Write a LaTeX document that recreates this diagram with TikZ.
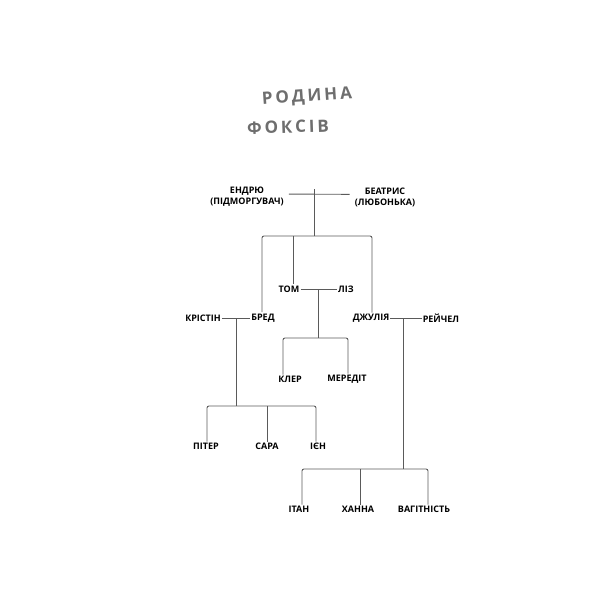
\documentclass[tikz,border=0pt]{standalone}
\usepackage{fontspec}
\setmainfont{Open Sans}
\usetikzlibrary{positioning,calc}
\definecolor{titlegray}{RGB}{110,110,110}
\definecolor{linegray}{RGB}{90,90,90}
\tikzset{
  person/.style={font=\bfseries\fontsize{9}{11}\selectfont, align=center, inner sep=1pt},
  link/.style={draw=linegray, line width=0.9pt, rounded corners=2pt}
}
\begin{document}
\begin{tikzpicture}[x=1pt,y=-1pt]
\useasboundingbox (0,0) rectangle (616,616);
% title
\node[font=\bfseries\fontsize{17}{20}\selectfont, text=titlegray, rotate=4] (title) at (307,97) {Р\,О\,Д\,И\,Н\,А};
\node[font=\bfseries\fontsize{17}{20}\selectfont, text=titlegray, rotate=2] (title2) at (288,127) {Ф\,О\,К\,С\,І\,В};

% people
\node[person] (andrew) at (247,197) {ЕНДРЮ\\(ПІДМОРГУВАЧ)};
\node[person] (beatrice) at (385,197) {БЕАТРИС\\(ЛЮБОНЬКА)};
\node[person] (tom) at (289,289) {ТОМ};
\node[person] (liz) at (346,289) {ЛІЗ};
\node[person] (kristin) at (203,318) {КРІСТІН};
\node[person] (brad) at (263,318) {БРЕД};
\node[person] (julia) at (371,318) {ДЖУЛІЯ};
\node[person] (rachel) at (441,318) {РЕЙЧЕЛ};
\node[person] (claire) at (290,379) {КЛЕР};
\node[person] (meredith) at (347,379) {МЕРЕДІТ};
\node[person] (peter) at (206,446) {ПІТЕР};
\node[person] (sara) at (267,446) {САРА};
\node[person] (ian) at (318,446) {ІЄН};
\node[person] (ethan) at (299,509) {ІТАН};
\node[person] (hanna) at (358,509) {ХАННА};
\node[person] (preg) at (424,509) {ВАГІТНІСТЬ};

% grandparents
\coordinate (gp) at (314,189);
\draw[link] ($(andrew.north east)+(4,8)$) -- ($(beatrice.north west)+(-4,8)$);
\draw[link] (gp) -- (314,236);
\draw[link] (262,312) |- (372,236) -- (julia.north -| 372,0);
\draw[link] (293,236) -- (tom.north -| 293,0);

% tom & liz
\draw[link] (tom.east) -- (liz.west);
\draw[link] (318,289) -- (318,338);
\draw[link] (claire.north -| 283,0) |- (348,338) -- (meredith.north -| 348,0);

% kristin & brad
\draw[link] (kristin.east) -- (brad.west);
\draw[link] (236,318) -- (236,406);
\draw[link] (peter.north -| 207,0) |- (316,406) -- (ian.north -| 316,0);
\draw[link] (267,406) -- (sara.north -| 267,0);

% julia & rachel
\draw[link] (julia.east) -- (rachel.west);
\draw[link] (403,318) -- (403,469);
\draw[link] (ethan.north -| 302,0) |- (428,469) -- (preg.north -| 428,0);
\draw[link] (360,469) -- (hanna.north -| 360,0);
\end{tikzpicture}
\end{document}
